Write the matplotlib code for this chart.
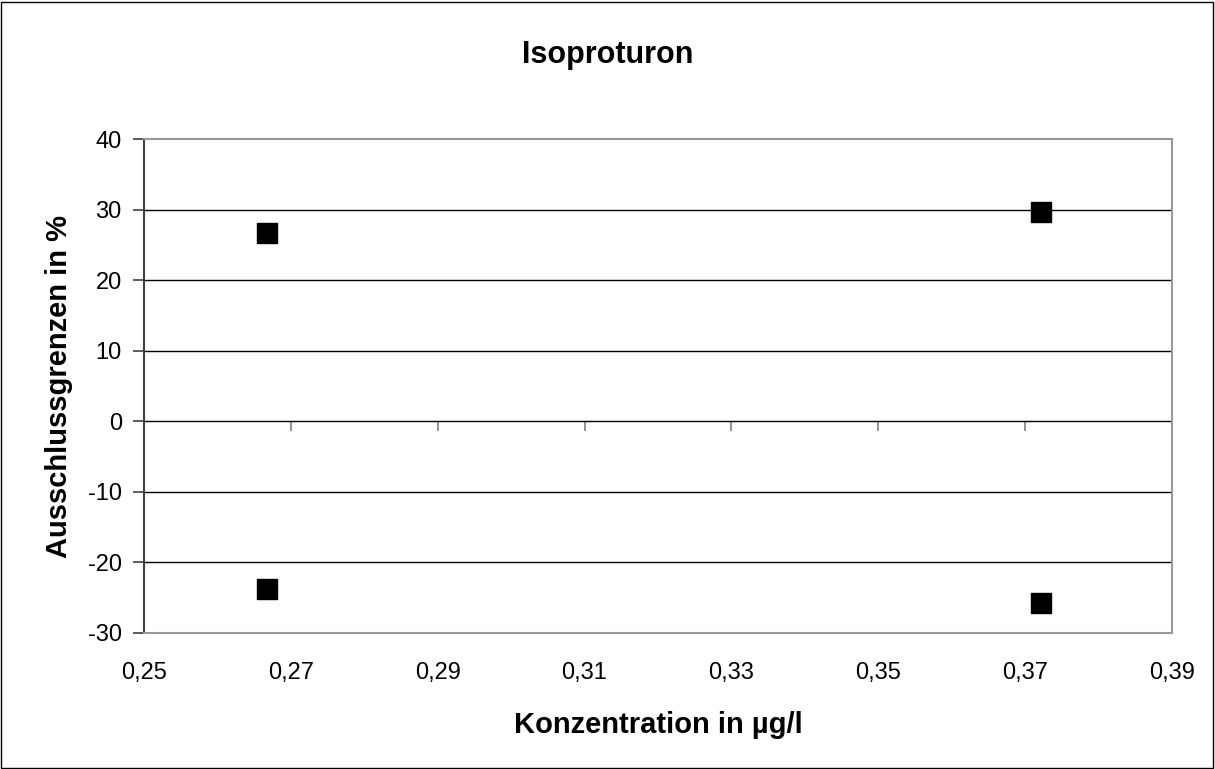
import numpy as np
import matplotlib.pyplot as plt
from matplotlib.ticker import FuncFormatter
from matplotlib.patches import Rectangle

plt.rcParams['font.family'] = ['Liberation Sans', 'DejaVu Sans']

# data
konz = [0.2668, 0.3722, 0.2668, 0.3722]
grenzen = [26.8, 29.7, -23.7, -25.7]
x_ticks = [0.25, 0.27, 0.29, 0.31, 0.33, 0.35, 0.37, 0.39]
y_ticks = [-30, -20, -10, 0, 10, 20, 30, 40]

fig = plt.figure(figsize=(12.15, 7.69), dpi=100)
ax = fig.add_axes([0.1185, 0.1769, 0.846, 0.6417])

# grid lines
for yv in y_ticks[1:-1]:
    ax.axhline(yv, color='black', lw=1.0, zorder=1)

ax.scatter(konz, grenzen, marker='s', s=200, color='black', zorder=3)

ax.set_xlim(0.25, 0.39)
ax.set_ylim(-30, 40)
ax.set_xticks(x_ticks)
ax.set_yticks(y_ticks)
ax.xaxis.set_major_formatter(FuncFormatter(lambda v, p: f"{v:.2f}".replace('.', ',')))
ax.yaxis.set_major_formatter(FuncFormatter(lambda v, p: f"{int(round(v))}"))
ax.tick_params(axis='x', length=0, labelsize=17, pad=21)
ax.tick_params(axis='y', length=8, width=1.2, color='#404040', labelsize=17, pad=8)

for side in ['top', 'right', 'bottom']:
    ax.spines[side].set_color('#999999')
    ax.spines[side].set_linewidth(1.5)
ax.spines['left'].set_color('#404040')
ax.spines['left'].set_linewidth(1.5)

# tick marks on the zero line
sec = ax.secondary_xaxis(30 / 70)
sec.set_xticks(x_ticks)
sec.tick_params(axis='x', direction='out', length=7, width=1.2, color='#808080',
                labelbottom=False, labeltop=False)
sec.spines['bottom'].set_visible(False)
sec.spines['top'].set_visible(False)

fig.text(0.5, 0.9177, 'Isoproturon', fontsize=22, fontweight='bold', ha='center', va='baseline')
fig.text(0.5416, 0.0468, 'Konzentration in µg/l', fontsize=21, fontweight='bold', ha='center', va='baseline')
fig.text(0.0551, 0.498, 'Ausschlussgrenzen in %', fontsize=21, fontweight='bold', rotation=90,
         rotation_mode='anchor', ha='center', va='baseline')

fig.patches.append(Rectangle((0.001, 0.001), 0.997, 0.997, transform=fig.transFigure,
                             fill=False, edgecolor='black', lw=1))

fig.savefig('out.png', dpi=100)
